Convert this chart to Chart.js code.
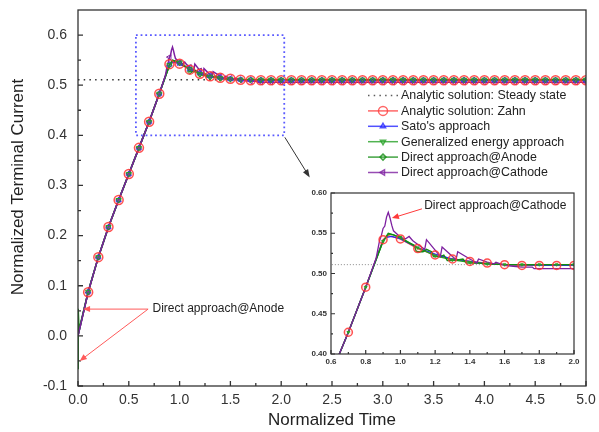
<!DOCTYPE html>
<html>
<head>
<meta charset="utf-8">
<script src="https://cdn.jsdelivr.net/npm/chart.js@4.4.1/dist/chart.umd.min.js"></script>
<style>
  html, body { margin: 0; padding: 0; background: #fff; }
  #wrap { position: relative; width: 599px; height: 432px; }
  #main { position: absolute; left: 0; top: 0; width: 599px; height: 432px; }
  #inset { position: absolute; left: 296px; top: 183px; width: 290px; height: 200px; }
</style>
</head>
<body>
<div id="wrap">
  <canvas id="main" width="599" height="432"></canvas>
  <canvas id="inset" width="290" height="200"></canvas>
</div>
<script>
/* time grid (normalized), one sample every 0.1 */
const gridTime = [0.0, 0.1, 0.2, 0.3, 0.4, 0.5, 0.6, 0.7, 0.8, 0.9,
  1.0, 1.1, 1.2, 1.3, 1.4, 1.5, 1.6, 1.7, 1.8, 1.9,
  2.0, 2.1, 2.2, 2.3, 2.4, 2.5, 2.6, 2.7, 2.8, 2.9,
  3.0, 3.1, 3.2, 3.3, 3.4, 3.5, 3.6, 3.7, 3.8, 3.9,
  4.0, 4.1, 4.2, 4.3, 4.4, 4.5, 4.6, 4.7, 4.8, 4.9, 5.0];

const steadyState = 0.511;

const zahnCurrent = [0.000, 0.087, 0.157, 0.217, 0.271, 0.323, 0.375, 0.427, 0.483, 0.542,
  0.543, 0.531, 0.523, 0.518, 0.515, 0.513, 0.511, 0.510, 0.510, 0.510,
  0.510, 0.510, 0.510, 0.510, 0.510, 0.510, 0.510, 0.510, 0.510, 0.510,
  0.510, 0.510, 0.510, 0.510, 0.510, 0.510, 0.510, 0.510, 0.510, 0.510,
  0.510, 0.510, 0.510, 0.510, 0.510, 0.510, 0.510, 0.510, 0.510, 0.510, 0.510];
const satoCurrent = [0.000, 0.088, 0.157, 0.217, 0.271, 0.323, 0.375, 0.427, 0.483, 0.541,
  0.543, 0.532, 0.524, 0.518, 0.515, 0.512, 0.511, 0.511, 0.510, 0.510,
  0.510, 0.510, 0.510, 0.510, 0.510, 0.510, 0.510, 0.510, 0.510, 0.510,
  0.510, 0.510, 0.510, 0.510, 0.510, 0.510, 0.510, 0.510, 0.510, 0.510,
  0.510, 0.510, 0.510, 0.510, 0.510, 0.510, 0.510, 0.510, 0.510, 0.510, 0.510];
const energyCurrent = [0.000, 0.088, 0.157, 0.217, 0.271, 0.323, 0.375, 0.427, 0.483, 0.540,
  0.545, 0.532, 0.522, 0.517, 0.514, 0.512, 0.511, 0.511, 0.511, 0.511,
  0.511, 0.511, 0.511, 0.511, 0.511, 0.511, 0.511, 0.511, 0.511, 0.511,
  0.511, 0.511, 0.511, 0.511, 0.511, 0.511, 0.511, 0.511, 0.511, 0.511,
  0.511, 0.511, 0.511, 0.511, 0.511, 0.511, 0.511, 0.511, 0.511, 0.511, 0.511];
const anodeCurrent = [-0.065, 0.087, 0.157, 0.217, 0.271, 0.323, 0.375, 0.427, 0.483, 0.540,
  0.544, 0.527, 0.521, 0.516, 0.513, 0.512, 0.511, 0.511, 0.511, 0.511,
  0.511, 0.511, 0.511, 0.511, 0.511, 0.511, 0.511, 0.511, 0.511, 0.511,
  0.511, 0.511, 0.511, 0.511, 0.511, 0.511, 0.511, 0.511, 0.511, 0.511,
  0.511, 0.511, 0.511, 0.511, 0.511, 0.511, 0.511, 0.511, 0.511, 0.511, 0.511];
const cathodeCurrent = [0.000, 0.087, 0.157, 0.217, 0.271, 0.323, 0.375, 0.427, 0.483, 0.556,
  0.545, 0.536, 0.529, 0.521, 0.518, 0.514, 0.510, 0.508, 0.506, 0.506,
  0.506, 0.506, 0.506, 0.506, 0.506, 0.506, 0.506, 0.506, 0.506, 0.506,
  0.506, 0.506, 0.506, 0.506, 0.506, 0.506, 0.506, 0.506, 0.506, 0.506,
  0.506, 0.506, 0.506, 0.506, 0.506, 0.506, 0.506, 0.506, 0.506, 0.506, 0.506];

/* extra samples between grid points (no markers there) */
const zahnExtraTime = [0.93];
const zahnExtra = [0.547];
const satoExtraTime = [0.92, 0.95];
const satoExtra = [0.545, 0.546];
const energyExtraTime = [0.93, 0.96];
const energyExtra = [0.549, 0.548];
const anodeExtraTime = [0.002, 0.01, 0.05, 0.93, 0.96, 1.05, 1.08, 1.09, 1.13, 1.15, 1.18, 1.19,
  1.23, 1.25, 1.27, 1.33, 1.36, 1.38, 1.45];
const anodeExtra = [0.054, 0.012, 0.046, 0.550, 0.548, 0.538, 0.535, 0.528, 0.527, 0.530, 0.527, 0.521,
  0.521, 0.523, 0.516, 0.517, 0.518, 0.513, 0.513];
const cathodeExtraTime = [0.86, 0.88, 0.89, 0.91, 0.92, 0.93, 0.94, 0.95, 0.96, 0.98, 1.03, 1.05, 1.07,
  1.14, 1.15, 1.23, 1.24, 1.32, 1.33, 1.44, 1.45, 1.54, 1.55, 1.65, 1.76, 1.77];
const cathodeExtra = [0.519, 0.541, 0.547, 0.559, 0.570, 0.576, 0.569, 0.560, 0.553, 0.549, 0.543, 0.546, 0.541,
  0.530, 0.542, 0.521, 0.533, 0.517, 0.527, 0.513, 0.518, 0.512, 0.514, 0.509, 0.508, 0.506];

const xTicks = [0.0, 0.5, 1.0, 1.5, 2.0, 2.5, 3.0, 3.5, 4.0, 4.5, 5.0];
const yTicks = [-0.1, 0.0, 0.1, 0.2, 0.3, 0.4, 0.5, 0.6];
const insetXTicks = [0.6, 0.8, 1.0, 1.2, 1.4, 1.6, 1.8, 2.0];
const insetYTicks = [0.40, 0.45, 0.50, 0.55, 0.60];

const FONT = "'Liberation Sans', Arial, sans-serif";

function series(grid, extraT, extraV) {
  const pts = gridTime.map((t, i) => ({ x: t, y: grid[i], m: t > 0 }));
  extraT.forEach((t, i) => pts.push({ x: t, y: extraV[i], m: false }));
  return pts.sort((a, b) => a.x - b.x);
}

// lineOrder: draw order of the curve, markOrder: draw order of its symbols (lower = on top)
// insetR: symbol size inside the zoomed panel (0 = none)
const lines = [
  { label: 'Analytic solution: Steady state', color: '#333333', steady: true, lineOrder: 9 },
  { label: 'Analytic solution: Zahn', color: '#ff4040', data: series(zahnCurrent, zahnExtraTime, zahnExtra),
    style: 'circle', rot: 0, r: 4.5, insetR: 4, lineOrder: 8, markOrder: 1 },
  { label: "Sato's approach", color: '#2525ff', data: series(satoCurrent, satoExtraTime, satoExtra),
    style: 'triangle', rot: 0, r: 3, insetR: 0, lineOrder: 7, markOrder: 2 },
  { label: 'Generalized energy approach', color: '#25a025', data: series(energyCurrent, energyExtraTime, energyExtra),
    style: 'triangle', rot: 180, r: 3, insetR: 1.6, lineOrder: 6, markOrder: 0 },
  { label: 'Direct approach@Anode', color: '#128c12', data: series(anodeCurrent, anodeExtraTime, anodeExtra),
    style: 'rectRot', rot: 0, r: 2.5, insetR: 0, lineOrder: 5, markOrder: 2 },
  { label: 'Direct approach@Cathode', color: '#7d1fa0', data: series(cathodeCurrent, cathodeExtraTime, cathodeExtra),
    style: 'triangle', rot: 270, r: 3, insetR: 0, lineOrder: 4, markOrder: 2 }
];

function buildDatasets(inset) {
  const out = [];
  lines.forEach(l => {
    if (l.steady) {
      out.push({
        label: l.label, order: l.lineOrder,
        data: [{ x: 0, y: steadyState }, { x: 5, y: steadyState }],
        borderColor: inset ? '#888' : '#333', borderWidth: inset ? 1 : 1.4,
        borderDash: inset ? [1, 2] : [1.5, 4.2], pointRadius: 0, fill: false
      });
      return;
    }
    // the curve itself
    out.push({
      label: l.label, order: l.lineOrder, data: l.data,
      borderColor: l.color, borderWidth: inset ? 1.3 : 1.5,
      pointRadius: 0, tension: 0, fill: false
    });
    // its symbols every 0.1
    const size = inset ? l.insetR : l.r;
    if (!size) return;
    const isCircle = l.style === 'circle';
    out.push({
      label: l.label, order: inset && !isCircle ? 0 : l.markOrder, data: l.data, showLine: false,
      pointStyle: l.style, pointRotation: l.rot,
      pointBorderColor: isCircle ? 'rgba(255,50,50,0.85)' : l.color,
      pointBackgroundColor: isCircle ? 'rgba(255,120,120,0.12)' : (inset ? l.color : 'rgba(255,255,255,0)'),
      pointBorderWidth: isCircle ? 1.5 : 1,
      pointRadius: c => (c.raw && c.raw.m) ? size : 0
    });
  });
  return out;
}

function arrow(ctx, x1, y1, x2, y2, color, len, half) {
  const a = Math.atan2(y2 - y1, x2 - x1);
  const c = Math.cos(a), s = Math.sin(a);
  ctx.strokeStyle = color; ctx.fillStyle = color; ctx.lineWidth = 1;
  ctx.beginPath(); ctx.moveTo(x1, y1); ctx.lineTo(x2 - c * len * 0.8, y2 - s * len * 0.8); ctx.stroke();
  ctx.beginPath(); ctx.moveTo(x2, y2);
  ctx.lineTo(x2 - len * c + half * s, y2 - len * s - half * c);
  ctx.lineTo(x2 - len * c - half * s, y2 - len * s + half * c);
  ctx.closePath(); ctx.fill();
}

// box round the plot, inward major/minor ticks on bottom and left, and the tick labels
function drawFrame(chart, xt, yt, opt) {
  const { ctx, chartArea: a, scales: { x, y } } = chart;
  ctx.save();
  ctx.strokeStyle = '#333'; ctx.lineWidth = opt.lw;
  ctx.strokeRect(a.left, a.top, a.right - a.left, a.bottom - a.top);
  ctx.beginPath();
  xt.forEach((v, i) => {
    const px = x.getPixelForValue(v);
    ctx.moveTo(px, a.bottom); ctx.lineTo(px, a.bottom - opt.maj);
    if (i < xt.length - 1) {
      const m = x.getPixelForValue((v + xt[i + 1]) / 2);
      ctx.moveTo(m, a.bottom); ctx.lineTo(m, a.bottom - opt.min);
    }
  });
  yt.forEach((v, i) => {
    const py = y.getPixelForValue(v);
    ctx.moveTo(a.left, py); ctx.lineTo(a.left + opt.maj, py);
    if (i < yt.length - 1) {
      const m = y.getPixelForValue((v + yt[i + 1]) / 2);
      ctx.moveTo(a.left, m); ctx.lineTo(a.left + opt.min, m);
    }
  });
  ctx.stroke();

  ctx.fillStyle = '#333'; ctx.font = opt.font;
  ctx.textAlign = 'center'; ctx.textBaseline = 'middle';
  xt.forEach(v => ctx.fillText(v.toFixed(opt.xd), x.getPixelForValue(v), a.bottom + opt.xGap));
  ctx.textAlign = 'right';
  yt.forEach(v => ctx.fillText(v.toFixed(opt.yd), a.left - opt.yGap, y.getPixelForValue(v)));
  ctx.restore();
}

const mainDecor = {
  id: 'mainDecor',
  afterDraw(chart) {
    const { ctx, chartArea: a, scales: { x, y } } = chart;
    drawFrame(chart, xTicks, yTicks, { lw: 1.3, maj: 5, min: 3, font: '14px ' + FONT,
      xd: 1, yd: 1, xGap: 14.5, yGap: 11 });
    ctx.save();

    // dotted box marking the zoomed region
    ctx.strokeStyle = '#5a5aff'; ctx.lineWidth = 1.8; ctx.setLineDash([1.8, 2.9]);
    const bx1 = x.getPixelForValue(0.57), bx2 = x.getPixelForValue(2.03);
    const by1 = y.getPixelForValue(0.60), by2 = y.getPixelForValue(0.40);
    ctx.strokeRect(bx1, by1, bx2 - bx1, by2 - by1);
    ctx.setLineDash([]);

    arrow(ctx, x.getPixelForValue(2.036), y.getPixelForValue(0.396),
      x.getPixelForValue(2.281), y.getPixelForValue(0.316), '#333', 8, 3);

    // anode annotation
    const ax = x.getPixelForValue(0.69), ay = y.getPixelForValue(0.0534);
    arrow(ctx, ax, ay, x.getPixelForValue(0.05), y.getPixelForValue(0.0534), '#ff5a5a', 7, 3);
    arrow(ctx, ax, ay, x.getPixelForValue(0.017), y.getPixelForValue(-0.05), '#ff5a5a', 7, 3);
    ctx.fillStyle = '#222'; ctx.font = '12px ' + FONT;
    ctx.textAlign = 'left'; ctx.textBaseline = 'middle';
    ctx.fillText('Direct approach@Anode', x.getPixelForValue(0.733), ay);

    // axis titles
    ctx.font = '17px ' + FONT; ctx.fillStyle = '#222'; ctx.textAlign = 'center';
    ctx.fillText('Normalized Time', (a.left + a.right) / 2, 420);
    ctx.save();
    ctx.translate(18.5, 187);
    ctx.rotate(-Math.PI / 2);
    ctx.fillText('Normalized Terminal Current', 0, 0);
    ctx.restore();

    // legend
    ctx.font = '12.4px ' + FONT; ctx.textBaseline = 'middle';
    lines.forEach((l, i) => {
      const ly = 95.5 + i * 15.4;
      ctx.save();
      ctx.globalAlpha = 0.8;
      ctx.strokeStyle = l.color; ctx.lineWidth = 1.5;
      if (l.steady) ctx.setLineDash([1.5, 4.2]);
      ctx.beginPath(); ctx.moveTo(368, ly); ctx.lineTo(398, ly); ctx.stroke();
      ctx.setLineDash([]);
      if (!l.steady) {
        ctx.fillStyle = 'rgba(255,255,255,0)';
        Chart.helpers.drawPoint(ctx, { pointStyle: l.style, rotation: l.rot,
          radius: l.style === 'circle' ? 4.5 : 3, borderWidth: 1.2 }, 383, ly);
      }
      ctx.restore();
      ctx.fillStyle = '#222'; ctx.textAlign = 'left';
      ctx.fillText(l.label, 401, ly + 0.5);
    });
    ctx.restore();
  }
};

const insetDecor = {
  id: 'insetDecor',
  beforeDraw(chart) {
    const { ctx, chartArea: a } = chart;
    ctx.save(); ctx.fillStyle = '#fff';
    ctx.fillRect(a.left, a.top, a.right - a.left, a.bottom - a.top);
    ctx.restore();
  },
  afterDraw(chart) {
    const { ctx, scales: { x, y } } = chart;
    drawFrame(chart, insetXTicks, insetYTicks, { lw: 1.2, maj: 4, min: 2, font: 'bold 8px ' + FONT,
      xd: 1, yd: 2, xGap: 8, yGap: 4 });
    ctx.save();
    const tx = x.getPixelForValue(1.124), ty = y.getPixelForValue(0.5803);
    arrow(ctx, tx, ty, x.getPixelForValue(0.951), y.getPixelForValue(0.5688), '#ff3a3a', 7, 3);
    ctx.fillStyle = '#222'; ctx.font = '12px ' + FONT;
    ctx.textAlign = 'left'; ctx.textBaseline = 'middle';
    ctx.fillText('Direct approach@Cathode', x.getPixelForValue(1.137), y.getPixelForValue(0.584));
    ctx.restore();
  }
};

function axis(min, max, fit) {
  return {
    type: 'linear', min: min, max: max,
    ticks: { display: false },
    grid: { display: false, drawTicks: false },
    border: { display: false },
    afterFit: fit
  };
}

new Chart(document.getElementById('main'), {
  type: 'line',
  data: { datasets: buildDatasets(false) },
  options: {
    responsive: false, animation: false, events: [],
    layout: { padding: { left: 0, top: 10, right: 13, bottom: 0 } },
    plugins: { legend: { display: false }, tooltip: { enabled: false } },
    scales: {
      x: axis(0, 5, s => { s.height = 46; }),
      y: axis(-0.1, 0.65, s => { s.width = 78; })
    }
  },
  plugins: [mainDecor]
});

new Chart(document.getElementById('inset'), {
  type: 'line',
  data: { datasets: buildDatasets(true) },
  options: {
    responsive: false, animation: false, events: [],
    layout: { padding: { left: 0, top: 10, right: 12, bottom: 0 } },
    plugins: { legend: { display: false }, tooltip: { enabled: false } },
    scales: {
      x: axis(0.6, 2.0, s => { s.height = 29; }),
      y: axis(0.40, 0.60, s => { s.width = 35; })
    }
  },
  plugins: [insetDecor]
});
</script>
</body>
</html>
